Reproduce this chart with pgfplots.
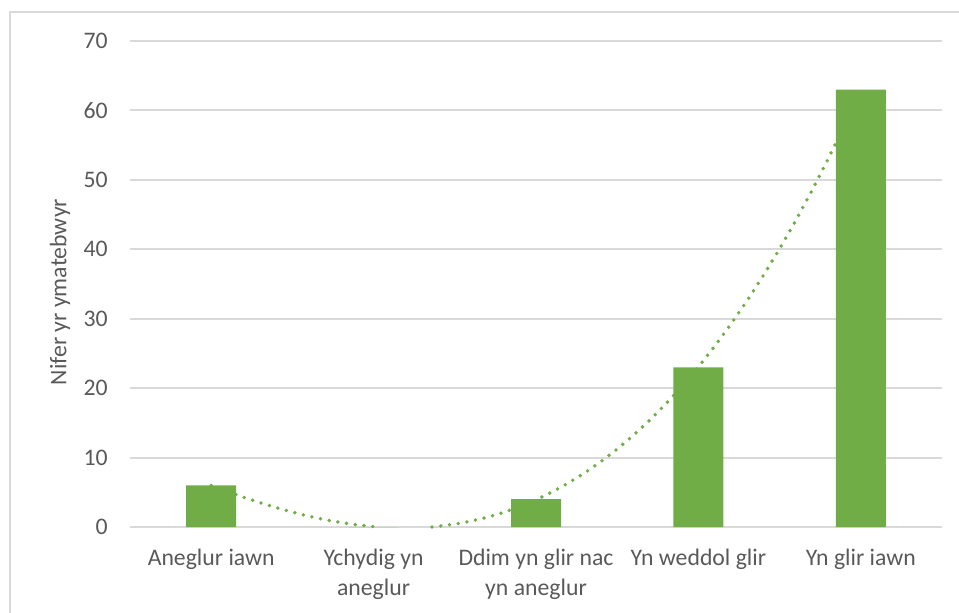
\documentclass[border=0pt]{standalone}
\usepackage{pgfplots}
\pgfplotsset{compat=1.18}
\usepackage{fontspec}
\setmainfont{Carlito}
\definecolor{bargreen}{HTML}{70AD47}
\definecolor{txtgray}{HTML}{595959}
\definecolor{gridgray}{HTML}{D9D9D9}
\begin{document}
\begin{tikzpicture}
\begin{axis}[
  at={(0,0)}, anchor=south west,
  scale only axis,
  width=609pt, height=364.5pt,
  xmin=0.5, xmax=5.5, ymin=0, ymax=70,
  clip=false,
  axis line style={draw=none},
  ymajorgrids, grid style={gridgray, line width=1.4pt},
  major tick length=0pt,
  ytick={0,10,...,70},
  xtick={1,2,3,4,5},
  xticklabels={Aneglur iawn, Ychydig yn\\aneglur, Ddim yn glir nac\\yn aneglur, Yn weddol glir, Yn glir iawn},
  /pgf/number format/assume math mode=true,
  tick label style={font=\fontsize{17.8}{23}\selectfont, text=txtgray},
  yticklabel style={anchor=east, inner sep=0pt, xshift=-16.5pt},
  xticklabel style={anchor=north, inner sep=0pt, yshift=-16pt, align=center},
  ylabel={Nifer yr ymatebwyr},
  ylabel style={at={(axis description cs:-0.0862,0.4835)}, anchor=center, font=\fontsize{17.8}{23}\selectfont, text=txtgray},
]
% polynomial trendline (order 3); hidden where it falls below 0
\addplot[bargreen, line width=2.9pt, line cap=round, dash pattern=on 0pt off 6.6pt, unbounded coords=jump] coordinates {
(1.0,5.986) (1.1,5.109) (1.2,4.282) (1.3,3.507) (1.4,2.792) (1.5,2.142)
(1.6,1.563) (1.7,1.059) (1.8,0.636) (1.9,0.301) (2.0,0.057) (2.01,0)
(2.2,nan)
(2.36,0) (2.4,0.117) (2.5,0.418) (2.6,0.845) (2.7,1.402)
(2.8,2.096) (2.9,2.931) (3.0,3.914) (3.1,5.049) (3.2,6.344) (3.3,7.802)
(3.4,9.429) (3.5,11.232) (3.6,13.213) (3.7,15.381) (3.8,17.741) (3.9,20.298)
(4.0,23.057) (4.1,26.023) (4.2,29.204) (4.3,32.603) (4.4,36.225) (4.5,40.080)
(4.6,44.168) (4.7,48.497) (4.8,53.072) (4.9,57.901) (5.0,62.986)
};
\addplot[ybar, bar width=37.5pt, fill=bargreen, draw=none] coordinates {
(1,6) (2,0) (3,4) (4,23) (5,63)
};
\end{axis}
\draw[gridgray, line width=1.5pt] (-90pt,-70pt) -- (-90pt,386.25pt) -- (630pt,386.25pt);
\pgfresetboundingbox
\useasboundingbox (-97.5pt,-64.5pt) rectangle (621.75pt,395.25pt);
\end{tikzpicture}
\end{document}
